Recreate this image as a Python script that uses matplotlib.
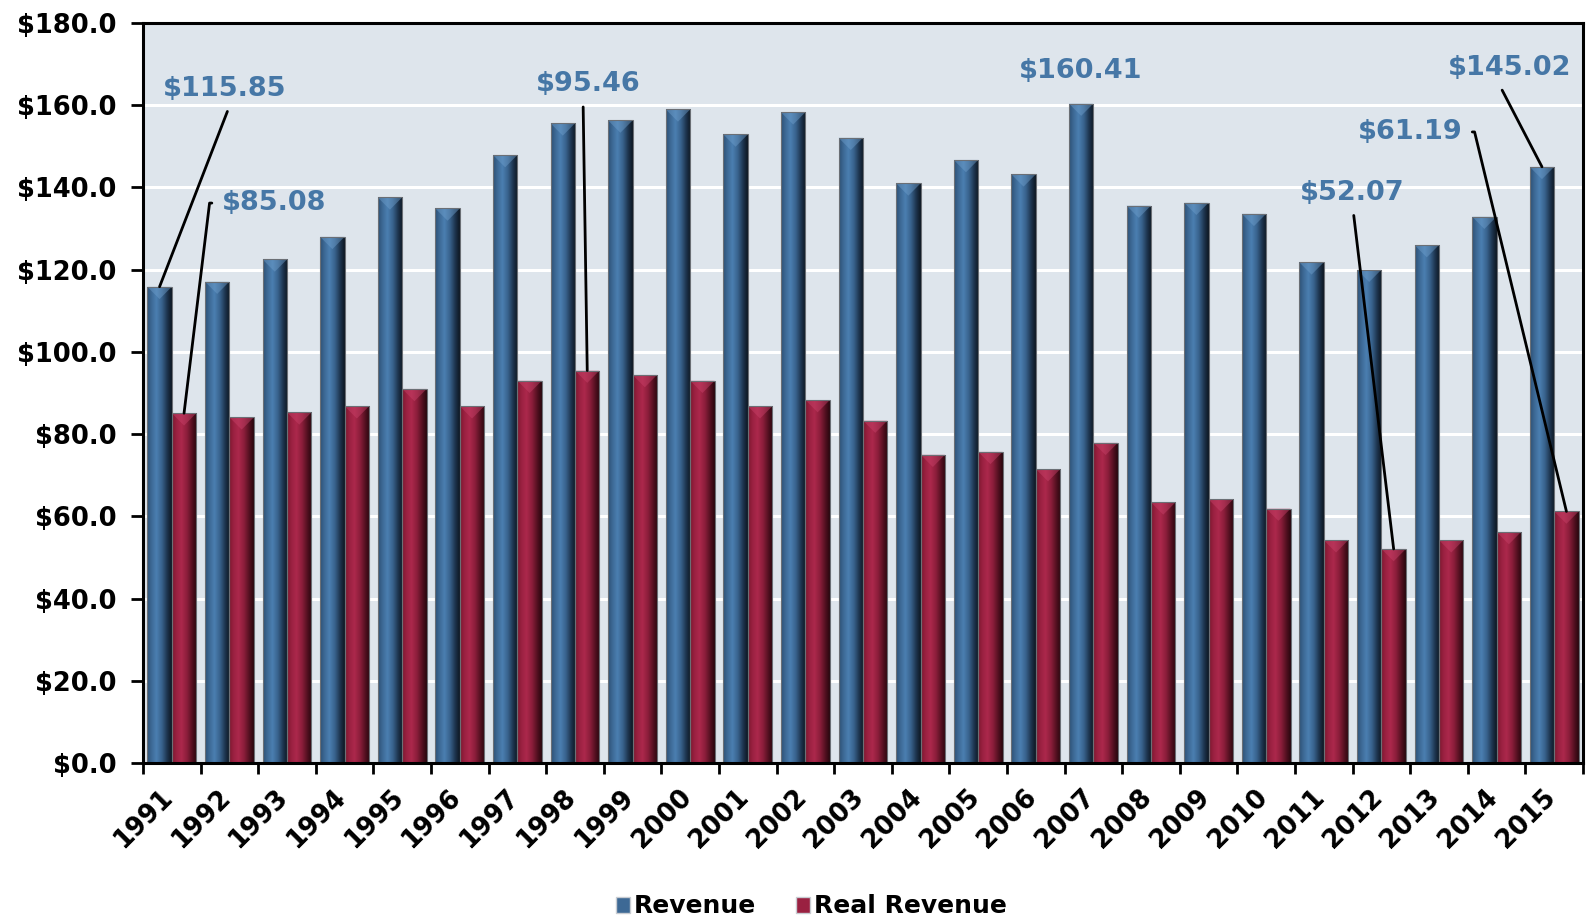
import matplotlib
matplotlib.use("Agg")
import matplotlib.pyplot as plt
import numpy as np
from matplotlib.colors import LinearSegmentedColormap
from matplotlib.patches import Patch, Polygon
from matplotlib.transforms import ScaledTranslation

years = [str(y) for y in range(1991, 2016)]
revenue = [115.85, 117.1, 122.5, 128.0, 137.6, 134.9, 147.9, 155.6, 156.3, 159.0,
           152.9, 158.3, 152.1, 141.0, 146.7, 143.2, 160.41, 135.6, 136.3, 133.6,
           121.8, 120.0, 126.0, 132.9, 145.02]
real_revenue = [85.08, 84.1, 85.3, 86.8, 91.0, 86.8, 93.0, 95.46, 94.4, 93.0,
                86.8, 88.3, 83.3, 75.0, 75.7, 71.5, 77.9, 63.4, 64.1, 61.9,
                54.2, 52.07, 54.2, 56.2, 61.19]
yticks = np.arange(0, 181, 20)

plt.rcParams['font.family'] = ['DejaVu Sans']
plt.rcParams['font.weight'] = 'bold'

BG = '#dee5ec'
LABEL_BLUE = '#4677a6'

# horizontal shading across each bar, light strip left of centre, dark right edge
blue_cm = LinearSegmentedColormap.from_list('blue_bar', [
    (0.0, '#2c5075'), (0.18, '#3d6995'), (0.38, '#4b7fb1'),
    (0.6, '#38628c'), (0.82, '#1c324b'), (1.0, '#0d1621')])
red_cm = LinearSegmentedColormap.from_list('red_bar', [
    (0.0, '#7c172f'), (0.18, '#9a2141'), (0.38, '#ac284c'),
    (0.6, '#8c1e3b'), (0.82, '#521020'), (1.0, '#26060e')])

fig = plt.figure(figsize=(15.91, 9.23), dpi=100)
ax = fig.add_axes([143 / 1591, 1 - 763 / 923, 1440 / 1591, 740 / 923])
ax.set_facecolor(BG)

x = np.arange(len(years))
width = 0.425
bars_rev = ax.bar(x - width / 2, revenue, width, zorder=3)
bars_real = ax.bar(x + width / 2, real_revenue, width, zorder=3)

grad = np.linspace(0, 1, 256).reshape(1, -1)
bevel = 3.0  # depth of the pointed highlight on the bar tops, in data units
for bars, cm, tip in [(bars_rev, blue_cm, '#6f9fcc'), (bars_real, red_cm, '#c9426a')]:
    for rect in bars:
        x0, y0 = rect.get_x(), rect.get_y()
        w, h = rect.get_width(), rect.get_height()
        im = ax.imshow(grad, cmap=cm, extent=(x0, x0 + w, y0, y0 + h),
                       aspect='auto', interpolation='bilinear', zorder=3)
        im.set_clip_path(rect)
        rect.set_facecolor('none')
        rect.set_edgecolor('#6b6f75')
        rect.set_linewidth(0.8)
        rect.set_zorder(4)
        ax.add_patch(Polygon([(x0, y0 + h), (x0 + w, y0 + h), (x0 + w / 2, y0 + h - bevel)],
                             closed=True, facecolor=tip, edgecolor='none',
                             alpha=0.45, zorder=3.5))

ax.set_xlim(-0.5, len(years) - 0.5)
ax.set_ylim(0, 180)

# gridlines
ax.set_yticks(yticks)
ax.set_yticklabels([f'${v:.1f}' for v in yticks])
ax.grid(axis='y', color='white', linewidth=2.2, zorder=1)
ax.set_axisbelow(True)

# year labels at the group centres, tick marks between groups
ax.set_xticks(x)
ax.set_xticklabels(years, rotation=45, ha='right', va='top', rotation_mode='anchor')
ax.set_xticks(np.arange(-0.5, len(years)), minor=True)
ax.tick_params(axis='x', which='major', length=0, pad=15, labelsize=18.5)
ax.tick_params(axis='x', which='minor', length=8, width=2, direction='out')
ax.tick_params(axis='y', length=9, width=2, pad=10, labelsize=18.5)
shift = ScaledTranslation(-0.12, 0, fig.dpi_scale_trans)
for lbl in ax.get_xticklabels():
    lbl.set_transform(lbl.get_transform() + shift)
for s in ax.spines.values():
    s.set_linewidth(2.2)
    s.set_color('black')
    s.set_zorder(6)

# callouts: (series, year index, label position, anchor on the label, leader style)
callouts = [
    (revenue, 0, (0.92, 163.9), (0.55, 0.0), 'arc3,rad=0'),
    (real_revenue, 0, (1.77, 136.2), (0.0, 0.5), 'arc,angleA=180,armA=12,angleB=90,armB=0,rad=0'),
    (real_revenue, 7, (7.23, 165.1), (0.45, 0.0), 'arc3,rad=0'),
    (revenue, 16, (15.78, 168.3), None, None),
    (real_revenue, 21, (20.5, 138.7), (0.5, 0.0), 'arc3,rad=0'),
    (revenue, 24, (23.23, 169.0), (0.4, 0.0), 'arc3,rad=0'),
    (real_revenue, 24, (21.5, 153.5), (1.0, 0.5), 'arc,angleA=0,armA=12,angleB=90,armB=0,rad=0'),
]
for series, i, pos, relpos, style in callouts:
    offset = -width / 2 if series is revenue else width / 2
    kw = {}
    if style is not None:
        kw['arrowprops'] = dict(arrowstyle='-', color='black', lw=2,
                                connectionstyle=style, relpos=relpos,
                                shrinkA=5, shrinkB=0)
    ax.annotate(f'${series[i]:.2f}', xy=(i + offset, series[i]), xytext=pos,
                ha='center', va='center', fontsize=19.5, fontweight='bold',
                color=LABEL_BLUE, zorder=7, annotation_clip=False, **kw)

handles = [Patch(facecolor='#3d6995', edgecolor='#c8ccd2', label='Revenue'),
           Patch(facecolor='#9a2141', edgecolor='#c8ccd2', label='Real Revenue')]
fig.legend(handles=handles, loc='center', bbox_to_anchor=(0.51, 0.018), ncol=2,
           frameon=False, fontsize=18, handlelength=0.55, handleheight=0.6,
           handletextpad=0.15, columnspacing=1.6)

fig.savefig('out.png', dpi=100)
